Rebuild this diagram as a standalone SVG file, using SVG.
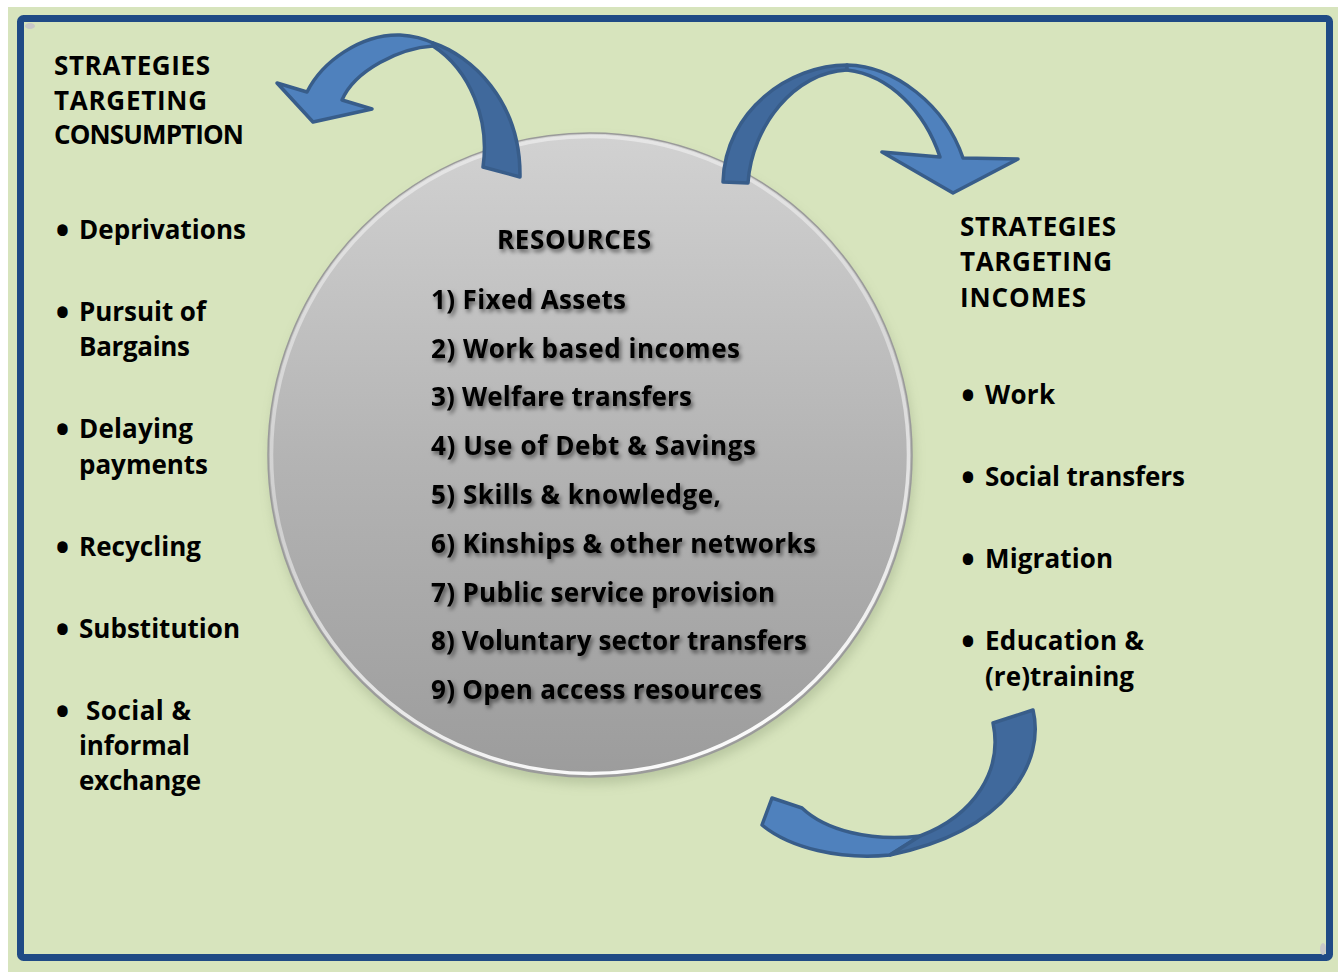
<svg xmlns="http://www.w3.org/2000/svg" width="1338" height="972" viewBox="0 0 1338 972">
  <defs>
    <style>
      .t { font-family: "Open Sans", "Noto Sans", "Liberation Sans", sans-serif; font-weight: bold; font-size: 26px; fill: #000; }
      .b { font-family: "Open Sans", "Noto Sans", "Liberation Sans", sans-serif; font-weight: bold; font-size: 37px; fill: #000; text-anchor: middle; }
      .arrow { stroke: #385d8a; stroke-width: 3.5; stroke-linejoin: round; }
      .front { fill: #4f81bd; }
      .back { fill: #40699c; }
    </style>
    <linearGradient id="disc" x1="0" y1="0" x2="0" y2="1">
      <stop offset="0" stop-color="#d2d2d2"/>
      <stop offset="0.5" stop-color="#b4b4b4"/>
      <stop offset="1" stop-color="#9c9c9c"/>
    </linearGradient>
    <linearGradient id="rim" x1="0.2" y1="0" x2="0.5" y2="1">
      <stop offset="0" stop-color="#ffffff" stop-opacity="0.45"/>
      <stop offset="0.5" stop-color="#ffffff" stop-opacity="0.4"/>
      <stop offset="1" stop-color="#ffffff" stop-opacity="0.95"/>
    </linearGradient>
    <filter id="discShadow" x="-20%" y="-20%" width="140%" height="140%">
      <feGaussianBlur stdDeviation="6"/>
    </filter>
    <filter id="txtShadow" x="-10%" y="-30%" width="120%" height="160%">
      <feDropShadow dx="2" dy="3" stdDeviation="2" flood-color="#000" flood-opacity="0.55"/>
    </filter>
  </defs>

  <!-- page -->
  <rect x="0" y="0" width="1338" height="972" fill="#ffffff"/>
  <rect x="8" y="7" width="1330" height="965" fill="#d7e4bd"/>

  <!-- frame -->
  <g id="frame">
    <rect x="20.5" y="18.5" width="1309" height="939" rx="3" fill="#d7e4bd" stroke="#1f4a85" stroke-width="7"/>
    <ellipse cx="30" cy="26" rx="5" ry="3" fill="#c8c8c8"/>
    <ellipse cx="1323" cy="949" rx="3" ry="6" fill="#c8c8c8"/>
  </g>

  <!-- central resources disc -->
  <g id="resources">
    <circle cx="592" cy="462" r="322" fill="#7f8f6a" opacity="0.35" filter="url(#discShadow)"/>
    <circle cx="590" cy="455" r="322" fill="url(#disc)" stroke="#9a9a9a" stroke-width="1.5"/>
    <circle cx="590" cy="455" r="318.5" fill="none" stroke="url(#rim)" stroke-width="3.5"/>
    <g filter="url(#txtShadow)">
      <text class="t" x="497" y="249" textLength="154">RESOURCES</text>
      <text class="t" x="431" y="309" textLength="195">1) Fixed Assets</text>
      <text class="t" x="431" y="358" textLength="309">2) Work based incomes</text>
      <text class="t" x="431" y="406" textLength="261">3) Welfare transfers</text>
      <text class="t" x="431" y="455" textLength="325">4) Use of Debt &amp; Savings</text>
      <text class="t" x="431" y="504" textLength="290">5) Skills &amp; knowledge,</text>
      <text class="t" x="431" y="553" textLength="385">6) Kinships &amp; other networks</text>
      <text class="t" x="431" y="602" textLength="344">7) Public service provision</text>
      <text class="t" x="431" y="650" textLength="376">8) Voluntary sector transfers</text>
      <text class="t" x="431" y="699" textLength="331">9) Open access resources</text>
    </g>
  </g>

  <!-- consumption strategies -->
  <g id="consumption">
    <text class="t" x="54" y="75" textLength="156">STRATEGIES</text>
    <text class="t" x="54" y="110" textLength="153">TARGETING</text>
    <text class="t" x="54" y="144" textLength="190">CONSUMPTION</text>
    <text class="b" x="62.5" y="243.5">•</text><text class="t" x="79" y="239" textLength="167">Deprivations</text>
    <text class="b" x="62.5" y="325.5">•</text><text class="t" x="79" y="321" textLength="127">Pursuit of</text>
    <text class="t" x="79" y="356" textLength="111">Bargains</text>
    <text class="b" x="62.5" y="442.5">•</text><text class="t" x="79" y="438" textLength="114">Delaying</text>
    <text class="t" x="79" y="474" textLength="129">payments</text>
    <text class="b" x="62.5" y="560.5">•</text><text class="t" x="79" y="556" textLength="122">Recycling</text>
    <text class="b" x="62.5" y="642.5">•</text><text class="t" x="79" y="638" textLength="161">Substitution</text>
    <text class="b" x="62.5" y="724.5">•</text><text class="t" x="86" y="720" textLength="105">Social &amp;</text>
    <text class="t" x="79" y="755" textLength="111">informal</text>
    <text class="t" x="79" y="790" textLength="122">exchange</text>
  </g>

  <!-- income strategies -->
  <g id="incomes">
    <text class="t" x="960" y="236" textLength="156">STRATEGIES</text>
    <text class="t" x="960" y="271" textLength="152">TARGETING</text>
    <text class="t" x="960" y="307" textLength="126">INCOMES</text>
    <text class="b" x="968" y="408.5">•</text><text class="t" x="985" y="404" textLength="70">Work</text>
    <text class="b" x="968" y="490.5">•</text><text class="t" x="985" y="486" textLength="200">Social transfers</text>
    <text class="b" x="968" y="572.5">•</text><text class="t" x="985" y="568" textLength="128">Migration</text>
    <text class="b" x="968" y="654.5">•</text><text class="t" x="985" y="650" textLength="159">Education &amp;</text>
    <text class="t" x="985" y="686" textLength="149">(re)training</text>
  </g>

  <!-- curved arrows -->
  <g id="connectors">
    <g id="arrow-to-consumption" class="arrow">
      <path class="back" d="M433,43 C470,55 521,100 520,177 L483,167 C490,120 470,70 433,46 Z"/>
      <path class="front" d="M342,100 L372,109 L313,122 L277,83 L307,92 C322,62 360,34 400,35 C415,36 425,39 433,43 L433,46 C400,48 355,70 342,100 Z"/>
    </g>
    <g id="arrow-to-incomes" class="arrow">
      <path class="back" d="M847,65 C790,65 725,110 723,182 L748,183 C752,125 795,72 847,70 Z"/>
      <path class="front" d="M847,65 C895,66 945,105 963,158 L1018,159 L953,193 L882,152 L940,157 C925,112 890,75 847,70 Z"/>
    </g>
    <g id="arrow-return" class="arrow">
      <path class="front" d="M890,855 C840,860 790,848 762,825 L772,798 L802,808 C825,830 870,842 920,836 Z"/>
      <path class="back" d="M1033,710 C1045,760 1010,830 890,855 L920,836 C975,815 1003,770 993,723 Z"/>
    </g>
  </g>
</svg>
